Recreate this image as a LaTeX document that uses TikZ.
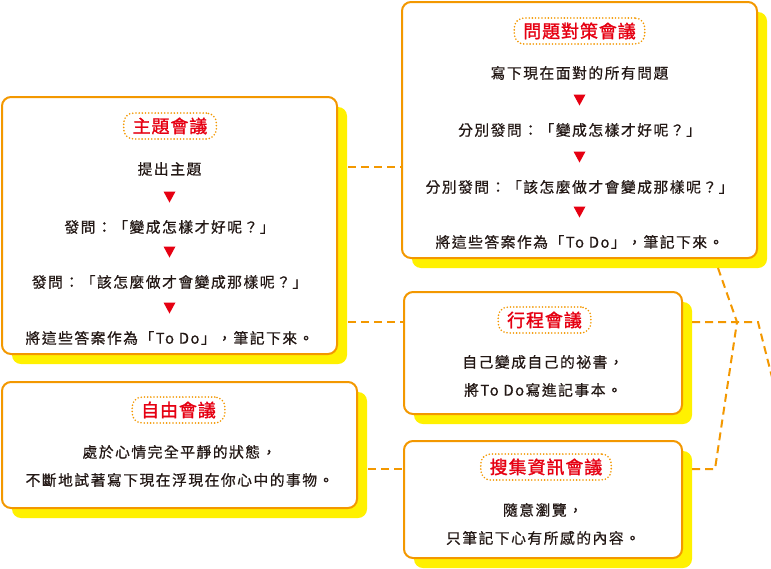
\documentclass[tikz,border=0pt]{standalone}
\usepackage{fontspec}
\setmainfont[LetterSpace=10, FakeBold=0.6]{Noto Sans CJK TC}
\newfontfamily\tagfont[LetterSpace=5, FakeBold=1.4]{Noto Sans CJK TC}
\usepackage{tikz}
\usetikzlibrary{shadows,positioning}
\usepackage{xcolor}
\definecolor{mkorange}{HTML}{F39800}
\definecolor{mkyellow}{HTML}{FFF100}
\definecolor{mkred}{HTML}{E60012}
\definecolor{mkink}{HTML}{231815}

\tikzset{
  meetbox/.style={draw=mkorange, line width=2pt, fill=white, rounded corners=9pt,
    general shadow={fill=mkyellow, shadow xshift=10pt, shadow yshift=-10pt}},
  tagbox/.style={draw=mkorange, line width=1.8pt, line cap=round,
    dash pattern=on 0pt off 3.2pt, rounded corners=10pt, text=mkred,
    font=\tagfont\fontsize{18}{18}\selectfont,
    inner xsep=9pt, inner ysep=0pt, minimum height=26pt},
  body/.style={text=mkink, font=\fontsize{14.8}{16}\selectfont, inner sep=0pt},
  link/.style={draw=mkorange, line width=2pt, dash pattern=on 8pt off 5pt},
  tri/.style={fill=mkred}
}

\begin{document}
\begin{tikzpicture}[x=1pt, y=-1pt]
\useasboundingbox[fill=white] (0,0) rectangle (771,568);

% --- 問題對策會議 (alto a destra) ---
\node[meetbox, minimum width=355pt, minimum height=256pt] (probbox) at (579.5,130) {};
\node[tagbox] (probtag) at (579.5,31) {問題對策會議};
\foreach \i/\y/\t in {1/73/寫下現在面對的所有問題,
                      2/130/分別發問：「變成怎樣才好呢？」,
                      3/187/分別發問：「該怎麼做才會變成那樣呢？」,
                      4/242/將這些答案作為「To Do」，筆記下來。}{
  \node[body] (prob\i) at (579.5,\y) {\t};
}
\foreach \y in {100,157,212}{
  \fill[tri] (573.5,\y-5.5) -- (585.5,\y-5.5) -- (579.5,\y+5.5) -- cycle;
}

% --- 主題會議 (sinistra) ---
\node[meetbox, minimum width=335pt, minimum height=257pt] (themebox) at (169.5,225.5) {};
\node[tagbox] (themetag) at (170,126) {主題會議};
\foreach \i/\y/\t in {1/169/提出主題,
                      2/227/發問：「變成怎樣才好呢？」,
                      3/282/發問：「該怎麼做才會變成那樣呢？」,
                      4/338/將這些答案作為「To Do」，筆記下來。}{
  \node[body] (theme\i) at (169.5,\y) {\t};
}
\foreach \y in {197,252,308}{
  \fill[tri] (163.5,\y-5.5) -- (175.5,\y-5.5) -- (169.5,\y+5.5) -- cycle;
}

% --- 自由會議 ---
\node[meetbox, minimum width=355pt, minimum height=126pt] (freebox) at (179.5,445) {};
\node[tagbox] (freetag) at (178.5,410) {自由會議};
\node[body] (free1) at (179.5,452) {處於心情完全平靜的狀態，};
\node[body] (free2) at (179.5,480) {不斷地試著寫下現在浮現在你心中的事物。};

% --- 行程會議 ---
\node[meetbox, minimum width=278pt, minimum height=122pt] (schedbox) at (543,353) {};
\node[tagbox] (schedtag) at (544.5,320) {行程會議};
\node[body] (sched1) at (543,362) {自己變成自己的祕書，};
\node[body] (sched2) at (543,390) {將To Do寫進記事本。};

% --- 搜集資訊會議 ---
\node[meetbox, minimum width=278pt, minimum height=117pt] (collectbox) at (543,499.5) {};
\node[tagbox] (collecttag) at (546,467) {搜集資訊會議};
\node[body] (collect1) at (543,510) {隨意瀏覽，};
\node[body] (collect2) at (543,538) {只筆記下心有所感的內容。};

% --- collegamenti tratteggiati ---
\coordinate (themeA) at (348,167);
\coordinate (themeB) at (348,322);
\coordinate (freeA) at (368,469);
\coordinate (schedA) at (692,322);
\coordinate (turnA) at (758,322);
\coordinate (edgeA) at (774,385);
\coordinate (collectA) at (692,469);
\coordinate (turnB) at (715,469);
\coordinate (crossB) at (737,322);
\coordinate (probA) at (718,268);

\draw[link] (themeA) -- (themeA -| probbox.west);
\draw[link] (themeB) -- (themeB -| schedbox.west);
\draw[link] (freeA) -- (freeA -| collectbox.west);
\draw[link] (schedA) -- (turnA) -- (edgeA);
\draw[link] (collectA) -- (turnB) -- (crossB) -- (probA);

\end{tikzpicture}
\end{document}
